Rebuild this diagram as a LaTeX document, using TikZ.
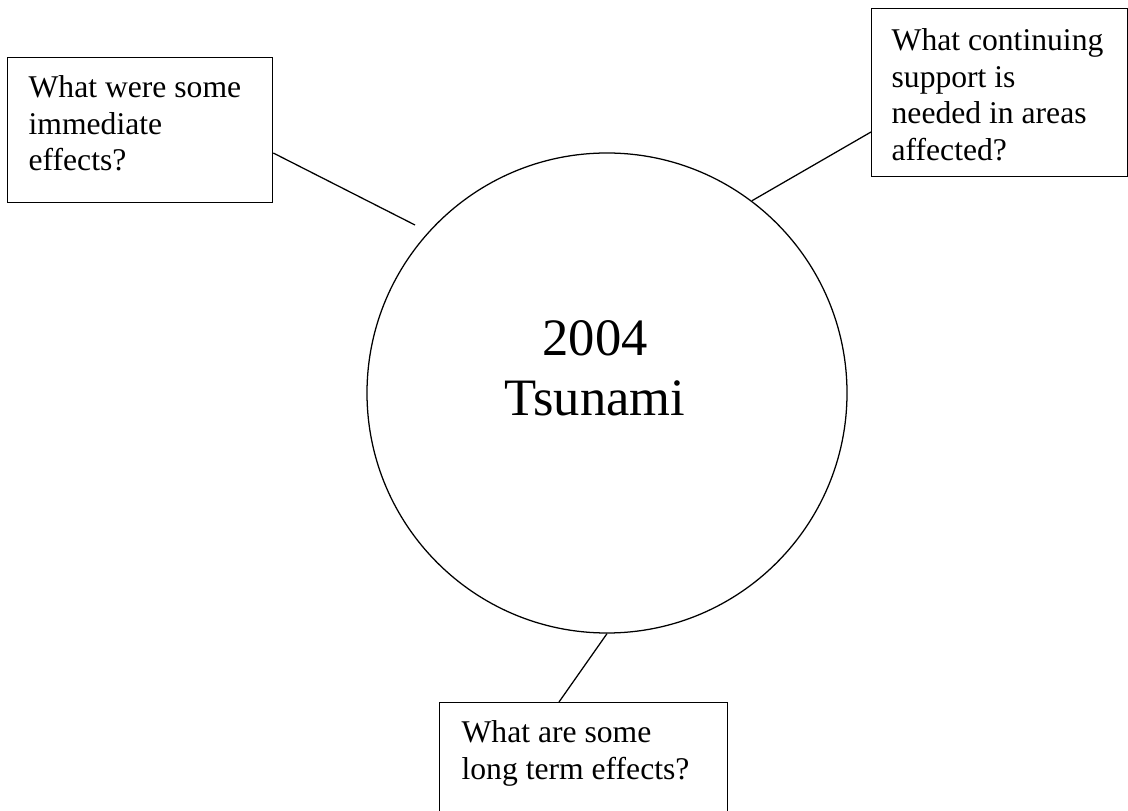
\documentclass[tikz,border=0pt]{standalone}
\usepackage{fontspec}
\setmainfont{Liberation Serif}
\usepackage{tikz}

\begin{document}
\begin{tikzpicture}[
    qbox/.style={rectangle, draw, line width=0.9pt, anchor=north west, inner ysep=0pt, align=flush left, font=\fontsize{22.5}{26}\selectfont},
    hub/.style={circle, draw, line width=0.9pt, minimum size=12cm, inner sep=0pt},
    title/.style={align=center, inner sep=0pt, font=\fontsize{37.4}{43}\selectfont},
    link/.style={line width=0.9pt}
]
    \useasboundingbox (0,0) rectangle (28.2,-20.275);

    \node[hub] (tsunami) at (15.175,-9.825) {};
    \node[title] (topic) at (14.875,-9.2125) {2004\\Tsunami};

    \node[qbox, text width=5.575cm, inner xsep=0.525cm, text height=1cm, text depth=2.625cm] (immediate) at (0.175,-1.425) {What were some\\immediate\\effects?};
    \node[qbox, text width=5.4cm, inner xsep=0.5cm, text height=1.05cm, text depth=3.15cm] (support) at (21.775,-0.2) {What continuing\\support is\\needed in areas\\affected?};
    \node[qbox, text width=6.1cm, inner xsep=0.55cm, text height=1cm, text depth=2cm] (longterm) at (10.975,-17.55) {What are some\\long term effects?};

    \coordinate (immediate end) at (10.375,-5.625);

    \draw[link] ([yshift=-2.4cm]immediate.north east) -- (immediate end);
    \draw[link] ([yshift=-3.1cm]support.north west) -- (tsunami.53);
    \draw[link] ([xshift=3cm]longterm.north west) -- (tsunami.south);
\end{tikzpicture}
\end{document}
